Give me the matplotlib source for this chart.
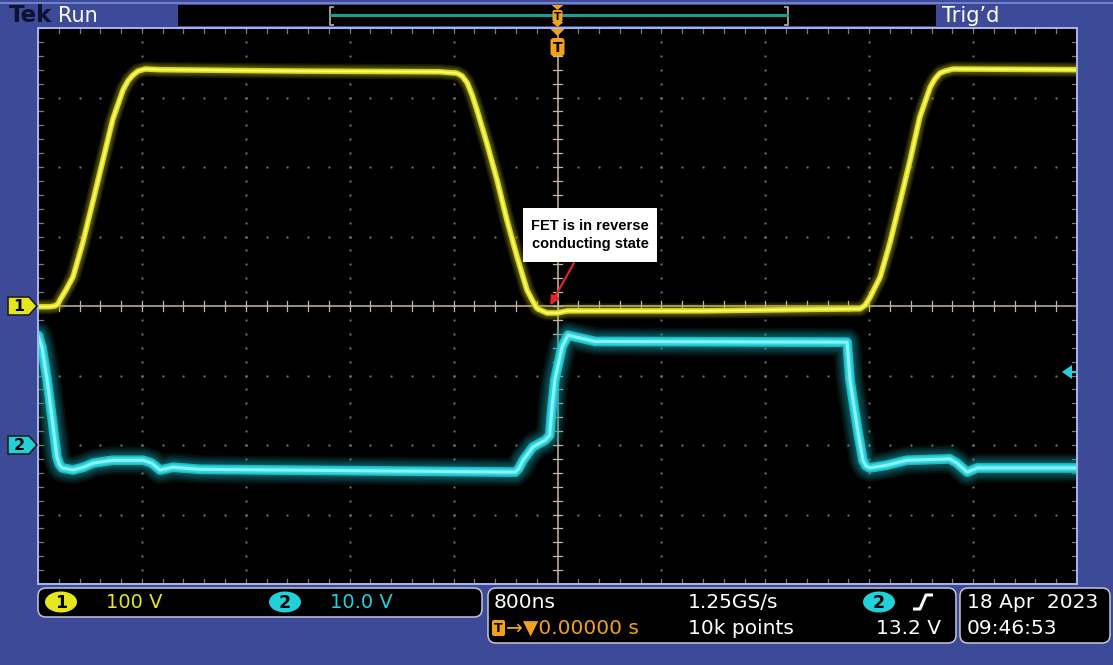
import numpy as np
import matplotlib
matplotlib.use("Agg")
import matplotlib.pyplot as plt
from matplotlib.patches import FancyBboxPatch, Polygon, Rectangle, Ellipse

# ---------------- acquisition settings ----------------
time_per_div_ns = 800
ch1_volts_per_div = 100
ch2_volts_per_div = 10
ch1_offset_div = 0.0
ch2_offset_div = -2.0

# ---------------- channel 1: switch-node voltage (V) ----------------
ch1_t_ns = [-4000, -3910, -3870, -3846, -3830, -3785, -3730, -3655, -3575,
            -3500, -3425, -3345, -3307, -3270, -3230, -3175, -3060, -1980,
            -905, -775, -735, -695, -658, -620, -545, -465, -390, -310, -235,
            -196, -160, -119, -80, 0, 75, 1100, 2330, 2368, 2405, 2485, 2560,
            2635, 2715, 2790, 2870, 2907, 2945, 2984, 3045, 4000]
ch1_v = [-1, -1, 0, 3, 9, 23, 42, 91, 152, 210, 268, 311, 324, 332, 338,
         341, 340, 338, 337, 335, 331, 321, 304, 282, 235, 181, 124, 70, 23,
         9, -3, -7, -10, -10, -7, -7, -4, 1, 12, 42, 91, 148, 210, 272, 315,
         327, 335, 338, 341, 340]

# ---------------- channel 2: gate voltage (V) ----------------
ch2_t_ns = [-4000, -3970, -3930, -3890, -3855, -3835, -3815, -3730, -3650,
            -3575, -3425, -3190, -3125, -3060, -2960, -2755, -325, -295,
            -265, -190, -95, -60, -42, -20, 35, 80, 150, 290, 2230, 2252,
            2275, 2315, 2352, 2375, 2405, 2535, 2690, 3020, 3075, 3155, 3230,
            4000]
ch2_v = [15.8, 14.1, 9.4, 3.6, -1.7, -2.8, -3.3, -3.6, -3.2, -2.6, -2.2,
         -2.2, -2.6, -3.6, -3.2, -3.5, -3.9, -3.3, -2.2, -0.3, 0.7, 1.4, 5.5,
         9.4, 14.1, 15.8, 15.5, 14.9, 14.8, 9.4, 6.5, 1.7, -2.2, -3.0, -3.3,
         -2.9, -2.2, -2.0, -2.6, -3.9, -3.3, -3.3]

# ---------------- readouts ----------------
ch1_scale_label = "100 V"
ch2_scale_label = "10.0 V"
timebase_label = "800ns"
sample_rate_label = "1.25GS/s"
record_label = "10k points"
trigger_pos_label = "\u2192\u25bc0.00000 s"
trigger_level_label = "13.2 V"
date_label = "18 Apr  2023"
time_label = "09:46:53"
note_text = "FET is in reverse\nconducting state"

# ---------------- colours ----------------
BLUE = "#3c4a97"
BORDER = "#a9b5ee"
GRID = "#7a7a7a"
CENTER = "#c3b9a5"
YEL = "#e6e620"
CYAN = "#22d0da"
ORANGE = "#f2a01e"
FONT = "DejaVu Sans"

W, H = 1113, 665
GX0, GX1, GY0, GY1 = 38, 1077, 28, 584

fig = plt.figure(figsize=(W / 100, H / 100), dpi=100, facecolor=BLUE)

bg = fig.add_axes([0, 0, 1, 1], zorder=0)
bg.set_xlim(0, W); bg.set_ylim(H, 0); bg.axis("off")

ax = fig.add_axes([GX0 / W, 1 - GY1 / H, (GX1 - GX0) / W, (GY1 - GY0) / H], zorder=1)
ax.set_facecolor("black")
ax.set_xlim(-5, 5); ax.set_ylim(-4, 4)
ax.set_xticks([]); ax.set_yticks([])
for s in ax.spines.values():
    s.set_color(BORDER); s.set_linewidth(1.4)

fg = fig.add_axes([0, 0, 1, 1], zorder=2)
fg.set_xlim(0, W); fg.set_ylim(H, 0); fg.axis("off")

# ---------------- graticule ----------------
minor = np.round(np.arange(-5, 5.001, 0.2), 3)
minor_y = np.round(np.arange(-4, 4.001, 0.2), 3)
for gx in range(-4, 5):
    if gx == 0:
        continue
    ax.plot(np.full_like(minor_y, gx), minor_y, ls="none", marker="s",
            ms=1.4, mew=0, color=GRID)
for gy in range(-3, 4):
    if gy == 0:
        continue
    ax.plot(minor, np.full_like(minor, gy), ls="none", marker="s",
            ms=1.4, mew=0, color=GRID)

# centre cross with tick marks
ax.axhline(0, color=CENTER, lw=1.1)
ax.axvline(0, color=CENTER, lw=1.1)
tx, ty = 0.045, 0.065
for m in minor:
    ax.plot([m, m], [-ty, ty], color=CENTER, lw=0.9)
    ax.plot([m, m], [4, 4 - ty], color=GRID, lw=0.9)
    ax.plot([m, m], [-4, -4 + ty], color=GRID, lw=0.9)
for m in minor_y:
    ax.plot([-tx, tx], [m, m], color=CENTER, lw=0.9)
    ax.plot([-5, -5 + tx], [m, m], color=GRID, lw=0.9)
    ax.plot([5, 5 - tx], [m, m], color=GRID, lw=0.9)

# ---------------- traces (phosphor-style glow) ----------------
def trace(t_ns, volts, vdiv, off, halo_col, halo_widths, halo_alpha, layers):
    x = np.asarray(t_ns, float) / time_per_div_ns
    y = np.asarray(volts, float) / vdiv + off
    kw = dict(solid_capstyle="round", solid_joinstyle="round")
    for lw in halo_widths:
        ax.plot(x, y, color=halo_col, lw=lw, alpha=halo_alpha, **kw)
    for lw, col in layers:
        ax.plot(x, y, color=col, lw=lw, **kw)

trace(ch2_t_ns, ch2_v, ch2_volts_per_div, ch2_offset_div,
      "#189aa2", [20, 17, 14.5, 12.5, 10.5, 9], 0.12,
      [(7, "#1cbcc6"), (4.8, "#30d4de"), (2.2, "#86f4f8")])
trace(ch1_t_ns, ch1_v, ch1_volts_per_div, ch1_offset_div,
      "#b4b410", [11, 9, 7.5, 6], 0.13,
      [(4.0, "#d6d61c"), (2.6, YEL), (1.1, "#fbfb80")])

# ---------------- top bar ----------------
bg.plot([0, W], [3.2, 3.2], color="#7f8cd6", lw=1.2)
bg.add_patch(Rectangle((178, 5), 758, 21, fc="black", ec="none"))
bg.plot([333, 330, 330, 333], [6.5, 6.5, 24.5, 24.5], color="#a8a8a8", lw=1.3)
bg.plot([785, 788, 788, 785], [6.5, 6.5, 24.5, 24.5], color="#a8a8a8", lw=1.3)
bg.plot([331, 787], [14.5, 14.5], color="#1a9c98", lw=2.2)
bg.text(9, 15.5, "Tek", color="#0c1230", fontsize=16.5, family=FONT,
        fontweight="bold", ha="left", va="center")
bg.text(58, 15.5, "Run", color="white", fontsize=15, family=FONT,
        ha="left", va="center")
bg.text(942, 15.5, "Trig\u2019d", color="white", fontsize=15, family=FONT,
        ha="left", va="center")

# trigger position markers
xt = GX0 + (GX1 - GX0) / 2
fg.add_patch(Polygon([(xt - 6, 5), (xt + 6, 5), (xt, 10)], fc=ORANGE, ec="none"))
fg.add_patch(FancyBboxPatch((xt - 5, 10), 10, 12, boxstyle="round,pad=0,rounding_size=2",
                            fc=ORANGE, ec="none"))
fg.text(xt, 16.5, "T", color="black", fontsize=7.5, fontweight="bold",
        ha="center", va="center", family=FONT)
fg.add_patch(Polygon([(xt - 6, 22), (xt + 6, 22), (xt, 27)], fc=ORANGE, ec="none"))
fg.add_patch(Polygon([(xt - 7, 29), (xt + 7, 29), (xt, 36)], fc=ORANGE, ec="none"))
fg.add_patch(FancyBboxPatch((xt - 7, 38), 14, 18, boxstyle="round,pad=0,rounding_size=3",
                            fc=ORANGE, ec="none"))
fg.text(xt, 47.5, "T", color="black", fontsize=10, fontweight="bold",
        ha="center", va="center", family=FONT)

# ---------------- ground tags ----------------
def ground_tag(label, off, col):
    yp = GY0 + (4 - off) * (GY1 - GY0) / 8
    fg.add_patch(Polygon([(8, yp - 9), (29, yp - 9), (37, yp), (29, yp + 9), (8, yp + 9)],
                         closed=True, fc=col, ec="#202020", lw=1.2))
    fg.text(19, yp + 0.5, label, color="black", fontsize=11.5, fontweight="bold",
            ha="center", va="center", family=FONT)

ground_tag("1", ch1_offset_div, YEL)
ground_tag("2", ch2_offset_div, CYAN)

# trigger level arrow
fg.add_patch(Polygon([(1062, 372), (1072, 365), (1072, 379)], fc=CYAN, ec="none"))
fg.plot([1071, 1077], [372, 372], color=CYAN, lw=1.5)

# ---------------- annotation ----------------
fg.add_patch(Rectangle((523, 208), 134, 54, fc="white", ec="none"))
fg.text(590, 235, note_text, color="black", fontsize=10.5, fontweight="bold",
        family="Liberation Sans", ha="center", va="center", linespacing=1.4)
ax.annotate("", xy=(-0.07, 0.01), xycoords="data", xytext=(574, 263),
            textcoords=fg.transData,
            arrowprops=dict(arrowstyle="-|>", color="#e42323", lw=1.6,
                            mutation_scale=13, shrinkA=0, shrinkB=0))

# ---------------- bottom readouts ----------------
def box(x0, y0, w, h):
    bg.add_patch(FancyBboxPatch((x0, y0), w, h, boxstyle="round,pad=0,rounding_size=8",
                                fc="black", ec="#c4c6d4", lw=1.1))

box(38, 588, 444, 29)
box(488, 588, 468, 55)
box(960, 588, 150, 55)

def badge(cx, cy, label, col):
    bg.add_patch(Ellipse((cx, cy), 32, 21, fc=col, ec="none"))
    bg.text(cx, cy + 0.5, label, color="black", fontsize=12.5, fontweight="bold",
            ha="center", va="center", family=FONT)

R1, R2 = 602, 628
badge(61, R1, "1", YEL)
bg.text(106, R1, ch1_scale_label, color=YEL, fontsize=14, family=FONT,
        ha="left", va="center")
badge(285, R1, "2", CYAN)
bg.text(330, R1, ch2_scale_label, color=CYAN, fontsize=14, family=FONT,
        ha="left", va="center")

bg.text(494, R1, timebase_label, color="white", fontsize=14.5, family=FONT,
        ha="left", va="center")
bg.text(688, R1, sample_rate_label, color="white", fontsize=14.5, family=FONT,
        ha="left", va="center")
badge(879, R1, "2", CYAN)
bg.plot([913, 920, 926, 933], [609, 609, 595, 595], color="white", lw=2.2,
        solid_capstyle="butt")

bg.add_patch(FancyBboxPatch((492, 620), 13, 16, boxstyle="round,pad=0,rounding_size=2",
                            fc=ORANGE, ec="none"))
bg.text(498.5, 628.5, "T", color="black", fontsize=9, fontweight="bold",
        ha="center", va="center", family=FONT)
bg.text(506, R2, trigger_pos_label, color=ORANGE, fontsize=14.5, family=FONT,
        ha="left", va="center")
bg.text(688, R2, record_label, color="white", fontsize=14.5, family=FONT,
        ha="left", va="center")
bg.text(941, R2, trigger_level_label, color="white", fontsize=14.5, family=FONT,
        ha="right", va="center")

bg.text(967, R1, date_label, color="white", fontsize=14.5, family=FONT,
        ha="left", va="center")
bg.text(967, R2, time_label, color="white", fontsize=14.5, family=FONT,
        ha="left", va="center")

fig.savefig("out.png", dpi=100, facecolor=BLUE)
